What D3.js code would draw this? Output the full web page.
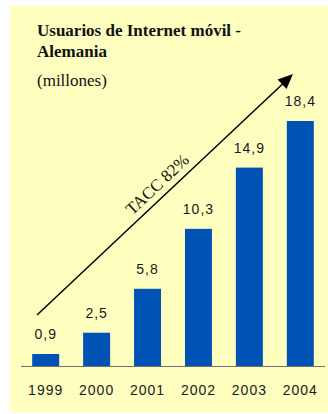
<!DOCTYPE html>
<html><head><meta charset="utf-8">
<script src="https://cdn.jsdelivr.net/npm/d3@7"></script>
<style>body{margin:0;background:#fff}svg{display:block}</style>
</head><body>
<svg id="c" width="328" height="414"></svg>
<script>
const years = ["1999","2000","2001","2002","2003","2004"];
const values = [0.9, 2.5, 5.8, 10.3, 14.9, 18.4];
const valueLabels = ["0,9","2,5","5,8","10,3","14,9","18,4"];
const titleLines = ["Usuarios de Internet móvil -","Alemania"];
const subtitle = "(millones)";
const trendLabel = "TACC 82%";

const svg = d3.select("#c");
svg.append("rect").attr("x",10).attr("y",6).attr("width",318).attr("height",406).attr("fill","#FFFFC0");

const base = 366;
const x = d3.scaleBand().domain(years).range([21,325]).paddingInner(0.47).paddingOuter(0.22);
const y = d3.scaleLinear().domain([0,18.4]).range([base, 121]);

svg.selectAll("rect.bar").data(values).join("rect").attr("class","bar")
  .attr("x",(d,i)=>x(years[i])).attr("width",x.bandwidth())
  .attr("y",d=>y(d)).attr("height",d=>base-y(d)).attr("fill","#0052B5");

svg.append("line").attr("x1",21).attr("x2",325).attr("y1",base+0.5).attr("y2",base+0.5)
  .attr("stroke","#707070").attr("stroke-width",1.2);

svg.selectAll("text.val").data(values).join("text").attr("class","val")
  .attr("x",(d,i)=>x(years[i])+x.bandwidth()/2).attr("y",d=>y(d)-15)
  .attr("text-anchor","middle").attr("font-family","Arial, Liberation Sans, sans-serif")
  .attr("font-size",14).attr("letter-spacing",1).attr("fill","#1a1a1a")
  .text((d,i)=>valueLabels[i]);

const xAxis = d3.axisBottom(x).tickSize(0).tickPadding(0);
const ax = svg.append("g").attr("transform",`translate(0,${base})`).call(xAxis);
ax.select(".domain").remove();
ax.selectAll("text").attr("y",29).attr("dy",0).attr("font-family","Arial, Liberation Sans, sans-serif")
  .attr("font-size",14).attr("letter-spacing",1).attr("fill","#1a1a1a");

const serif = "'Liberation Serif', 'Times New Roman', serif";
svg.selectAll("text.title").data(titleLines).join("text").attr("class","title")
  .attr("x",37).attr("y",(d,i)=>36+i*21).attr("font-family",serif)
  .attr("font-weight","bold").attr("font-size",17).attr("fill","#111").text(d=>d);
svg.append("text").attr("x",37).attr("y",86).attr("font-family",serif)
  .attr("font-size",17).attr("fill","#111").text(subtitle);

// trend arrow
const p0=[37,315], p1=[293,74];
svg.append("line").attr("x1",p0[0]).attr("y1",p0[1]).attr("x2",p1[0]-3).attr("y2",p1[1]+3)
  .attr("stroke","#000").attr("stroke-width",1.5);
const ang = Math.atan2(p1[1]-p0[1], p1[0]-p0[0]);
const hl=15, hw=6.5;
const bx=p1[0]-hl*Math.cos(ang), by=p1[1]-hl*Math.sin(ang);
const nx=-Math.sin(ang), ny=Math.cos(ang);
svg.append("path").attr("d",`M${p1[0]},${p1[1]}L${bx+hw*nx},${by+hw*ny}L${bx-hw*nx},${by-hw*ny}Z`).attr("fill","#000");

const dist=177, deg=ang*180/Math.PI;
const tx=p0[0]+dist*Math.cos(ang), ty=p0[1]+dist*Math.sin(ang);
svg.append("text").attr("transform",`translate(${tx},${ty}) rotate(${deg})`).attr("y",-7)
  .attr("text-anchor","middle").attr("font-family",serif)
  .attr("font-size",17).attr("fill","#111").text(trendLabel);
</script>
</body></html>
